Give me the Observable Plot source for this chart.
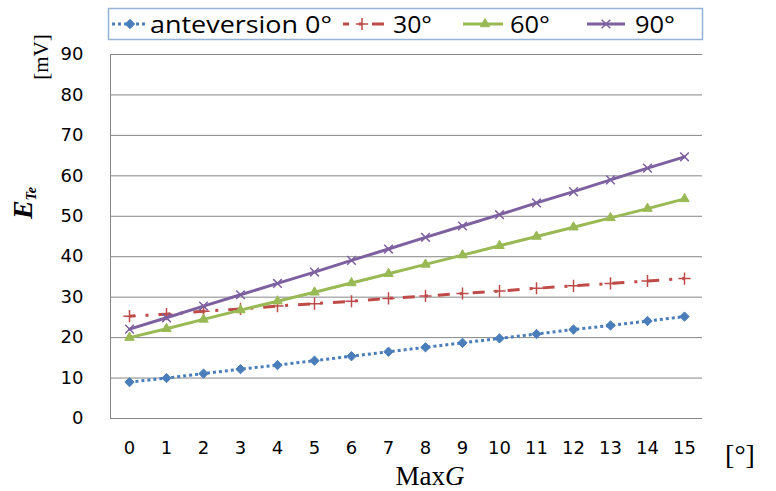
<!DOCTYPE html>
<html>
<head>
<meta charset="utf-8">
<script src="https://cdn.jsdelivr.net/npm/d3@7"></script>
<script src="https://cdn.jsdelivr.net/npm/@observablehq/plot@0.6"></script>
<style>
  html, body { margin: 0; padding: 0; background: #fff; }
  #chart { position: relative; width: 776px; height: 491px; }
  #chart svg { display: block; }
  #legend { position: absolute; left: 0; top: 0; pointer-events: none; }
</style>
</head>
<body>
<div id="chart"></div>
<script>
// Max G angle [°]
const maxG = [0, 1, 2, 3, 4, 5, 6, 7, 8, 9, 10, 11, 12, 13, 14, 15];
// E_Te [mV] for each anteversion angle
const ante0  = [9.0, 10.0, 11.1, 12.2, 13.2, 14.3, 15.4, 16.5, 17.6, 18.7, 19.8, 20.9, 22.0, 23.0, 24.1, 25.2];
const ante30 = [25.3, 25.8, 26.5, 27.1, 27.8, 28.4, 29.0, 29.7, 30.3, 30.9, 31.5, 32.2, 32.8, 33.4, 34.0, 34.6];
const ante60 = [20.0, 22.2, 24.5, 26.8, 29.0, 31.2, 33.5, 35.8, 38.1, 40.4, 42.7, 45.0, 47.3, 49.6, 51.9, 54.3];
const ante90 = [22.1, 24.9, 27.8, 30.6, 33.4, 36.2, 39.1, 41.9, 44.8, 47.6, 50.4, 53.3, 56.1, 59.0, 61.9, 64.7];
const seriesNames = ["anteversion 0°", "30°", "60°", "90°"];
const yTicks = [0, 10, 20, 30, 40, 50, 60, 70, 80, 90];

const tickFont = "DejaVu Sans, sans-serif";
const legendFont = "Open Sans, sans-serif";
const serif = "Liberation Serif, Times New Roman, serif";

const styles = [
  {values: ante0,  color: "#4a7ebb", dash: "3,3",        symbol: "diamond2",  r: 4.2, fill: true},
  {values: ante30, color: "#be4b48", dash: "12,10,3,10", symbol: "plus",      r: 4,   fill: false, offset: 6},
  {values: ante60, color: "#98b954", dash: null,         symbol: "triangle2", r: 4.5, fill: true},
  {values: ante90, color: "#7d60a0", dash: null,         symbol: "times",     r: 4,   fill: false}
];

const series = styles.map((s, i) => ({
  ...s,
  name: seriesNames[i],
  rows: maxG.map((g, j) => ({g, v: s.values[j]}))
}));

const marks = [
  Plot.gridY(yTicks.filter(d => d > 0), {stroke: "#868686", strokeOpacity: 1, strokeWidth: 1}),
  Plot.ruleY([0], {stroke: "#868686", strokeWidth: 1}),
  Plot.frame({anchor: "left", stroke: "#868686", strokeWidth: 1}),
  Plot.axisY(yTicks, {tickSize: 0, tickPadding: 27, fontSize: 18, fontFamily: tickFont, fill: "#000", label: null}),
  Plot.axisX(maxG, {tickSize: 0, tickPadding: 23, fontSize: 18, fontFamily: tickFont, fill: "#000", label: null})
];
for (const s of series) {
  marks.push(Plot.line(s.rows, {
    x: "g", y: "v", stroke: s.color, strokeWidth: 3,
    strokeDasharray: s.dash ?? undefined,
    strokeDashoffset: s.offset ?? 0,
    strokeLinecap: s.dash ? "butt" : "round"
  }));
  marks.push(Plot.dot(s.rows, {
    x: "g", y: "v", symbol: () => s.symbol, r: s.r,
    fill: s.fill ? s.color : "none",
    stroke: s.color, strokeWidth: s.fill ? 1 : 1.5
  }));
}

const plot = Plot.plot({
  width: 776,
  height: 491,
  marginTop: 54,
  marginBottom: 73,
  marginLeft: 110,
  marginRight: 74,
  style: {background: "#fff", overflow: "visible"},
  x: {type: "point", domain: maxG, padding: 0.5, label: null},
  y: {domain: [0, 90], label: null},
  symbol: {type: "identity"},
  marks
});

const svg = d3.select(plot);

// y-axis title: E_Te and unit
const yTitle = svg.append("text")
  .attr("transform", "translate(32,203) rotate(-90)")
  .attr("text-anchor", "middle")
  .attr("font-family", serif)
  .attr("font-style", "italic")
  .attr("font-weight", "bold")
  .attr("fill", "#000");
yTitle.append("tspan").attr("font-size", 28).text("E");
yTitle.append("tspan").attr("font-size", 14).attr("dy", 4).text("Te");

svg.append("text")
  .attr("transform", "translate(41,57) rotate(-90)")
  .attr("text-anchor", "middle")
  .attr("dominant-baseline", "central")
  .attr("font-family", serif)
  .attr("font-size", 21)
  .attr("fill", "#000")
  .text("[mV]");

// x-axis title and unit
const xTitle = svg.append("text")
  .attr("x", 430).attr("y", 485)
  .attr("text-anchor", "middle")
  .attr("font-family", serif)
  .attr("font-size", 27)
  .attr("fill", "#000");
xTitle.append("tspan").text("Max");
xTitle.append("tspan").attr("font-style", "italic").text("G");

svg.append("text")
  .attr("x", 740).attr("y", 464)
  .attr("font-family", serif)
  .attr("font-size", 28)
  .attr("fill", "#000")
  .text("[°]");

const chart = document.getElementById("chart");
chart.appendChild(plot);

// legend strip across the top
const legend = d3.select(chart).append("svg")
  .attr("id", "legend")
  .attr("width", 776).attr("height", 45);
legend.append("rect")
  .attr("x", 108.5).attr("y", 8.5).attr("width", 594).attr("height", 31)
  .attr("fill", "#fff").attr("stroke", "#95b3d7").attr("stroke-width", 1.5);

const symbolTypes = {diamond2: d3.symbolDiamond2, plus: d3.symbolPlus, triangle2: d3.symbolTriangle2, times: d3.symbolTimes};
const legendItems = [
  {x0: 112, x1: 148, mark: 130, tx: 150, tw: 182},
  {x0: 343, x1: 387, mark: 362, tx: 393, tw: 39},
  {x0: 463, x1: 503, mark: 485, tx: 510, tw: 40},
  {x0: 587, x1: 625, mark: 606, tx: 635, tw: 40}
];
series.forEach((s, i) => {
  const it = legendItems[i];
  const ly = 24;
  legend.append("line")
    .attr("x1", it.x0).attr("x2", it.x1).attr("y1", ly).attr("y2", ly)
    .attr("stroke", s.color).attr("stroke-width", 3)
    .attr("stroke-linecap", "butt")
    .attr("stroke-dasharray", s.dash)
    .attr("stroke-dashoffset", s.offset ?? 0);
  legend.append("path")
    .attr("transform", `translate(${it.mark},${ly})`)
    .attr("d", d3.symbol(symbolTypes[s.symbol], Math.PI * s.r * s.r)())
    .attr("fill", s.fill ? s.color : "none")
    .attr("stroke", s.color).attr("stroke-width", s.fill ? 1 : 1.5);
  legend.append("text")
    .attr("x", it.tx).attr("y", ly)
    .attr("dominant-baseline", "central")
    .attr("font-family", legendFont)
    .attr("font-size", 23)
    .attr("textLength", it.tw)
    .attr("lengthAdjust", "spacingAndGlyphs")
    .attr("fill", "#000")
    .text(s.name);
});
</script>
</body>
</html>
